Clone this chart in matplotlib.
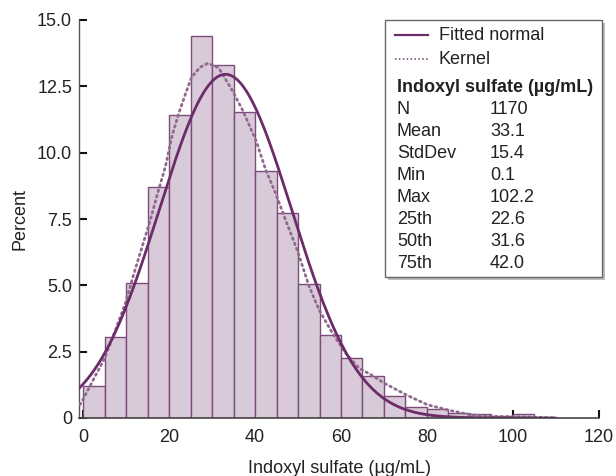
import numpy as np
import matplotlib
matplotlib.use("Agg")
import matplotlib.pyplot as plt
from matplotlib.patches import Rectangle

plt.rcParams['font.family'] = ['Liberation Sans', 'DejaVu Sans']

# ---- data ----
bin_starts = [0, 5, 10, 15, 20, 25, 30, 35, 40, 45, 50, 55, 60, 65, 70, 75, 80, 85, 90, 95, 100]
percent = [1.19, 3.07, 5.07, 8.71, 11.43, 14.41, 13.31, 11.55, 9.30, 7.71, 5.04, 3.13,
           2.26, 1.60, 0.84, 0.42, 0.34, 0.17, 0.15, 0.09, 0.15]
bin_width = 5

n_obs = 1170
mean_val = 33.1
sd_val = 15.4

kernel_x = [-0.8, 0.0, 2.9, 4.8, 7.5, 9.8, 11.8, 13.7, 15.6, 17.5, 19.1, 20.6, 22.2, 23.8,
            25.2, 27.2, 29.0, 31.5, 34.7, 37.1, 40.2, 42.5, 44.8, 47.1, 49.8, 52.6, 54.9,
            58.0, 61.1, 64.2, 67.3, 70.1, 75.1, 80.1, 85.2, 90.2, 95.2, 100.0, 105.0, 110.0]
kernel_y = [0.50, 0.72, 1.62, 2.19, 3.32, 4.32, 5.45, 6.45, 7.46, 8.58, 9.46, 10.59, 11.47,
            12.22, 12.84, 13.22, 13.37, 13.20, 12.34, 11.60, 10.46, 9.34, 8.46, 7.46, 6.33,
            4.95, 4.07, 3.20, 2.44, 1.88, 1.60, 1.31, 0.88, 0.50, 0.29, 0.12, 0.06, 0.05,
            0.03, 0.0]

stat_labels = ["N", "Mean", "StdDev", "Min", "Max", "25th", "50th", "75th"]
stat_values = ["1170", "33.1", "15.4", "0.1", "102.2", "22.6", "31.6", "42.0"]

x_ticks = [0, 20, 40, 60, 80, 100, 120]
y_ticks = [0, 2.5, 5.0, 7.5, 10.0, 12.5, 15.0]
y_ticklabels = ["0", "2.5", "5.0", "7.5", "10.0", "12.5", "15.0"]

# ---- figure ----
W, H = 616, 476
fig = plt.figure(figsize=(W / 100, H / 100), dpi=100)
ax = fig.add_axes([79 / W, 1 - 418 / H, (600 - 79) / W, (418 - 20) / H])

fill_c = "#d8cad8"
edge_c = "#7d4c7b"
line_c = "#6c2c69"
kern_c = "#8f6a8d"
txt_c = "#222222"

ax.bar(bin_starts, percent, width=bin_width, align='edge', color=fill_c,
       edgecolor=edge_c, linewidth=1.0, zorder=2)

xs = np.linspace(-1, 110, 500)
normal_pct = 100 * bin_width * np.exp(-0.5 * ((xs - mean_val) / sd_val) ** 2) / (sd_val * np.sqrt(2 * np.pi))
ax.plot(xs, normal_pct, color=line_c, lw=2.0, zorder=4, solid_capstyle='round')
ax.plot(kernel_x, kernel_y, color=kern_c, lw=2.0, linestyle=(0, (0.6, 1.4)),
        dash_capstyle='round', zorder=3)

ax.set_xlim(-1, 120.3)
ax.set_ylim(0, 15)
ax.set_xticks(x_ticks)
ax.set_xticklabels([str(v) for v in x_ticks])
ax.set_yticks(y_ticks)
ax.set_yticklabels(y_ticklabels)

for s in ['top', 'right']:
    ax.spines[s].set_visible(False)
ax.spines['left'].set_color('#555555')
ax.spines['left'].set_linewidth(1.0)
ax.spines['bottom'].set_color('#444444')
ax.spines['bottom'].set_linewidth(1.2)
ax.spines['bottom'].set_bounds(-1, 120)
ax.spines['bottom'].set_zorder(5)

ax.tick_params(direction='in', length=6, width=1.5, color='#111111', labelsize=13,
               labelcolor=txt_c)
ax.tick_params(axis='y', pad=5)
ax.tick_params(axis='x', pad=8)

ax.set_xlabel("Indoxyl sulfate (µg/mL)", fontsize=13, color=txt_c, labelpad=10)
ax.set_ylabel("Percent", fontsize=13, color=txt_c, labelpad=6)

# ---- legend / stats box ----
def fx(px):
    return px / W

def fy(py):
    return 1 - py / H

bx0, bx1, by0, by1 = 385, 602, 20, 277
shadow = Rectangle((fx(bx0 + 3), fy(by1 + 3)), fx(bx1 - bx0), (by1 - by0) / H,
                   transform=fig.transFigure, facecolor='#bbbbbb', edgecolor='none',
                   zorder=9)
box = Rectangle((fx(bx0), fy(by1)), fx(bx1 - bx0), (by1 - by0) / H,
                transform=fig.transFigure, facecolor='white', edgecolor='#666666',
                linewidth=1.0, zorder=10)
fig.patches.extend([shadow, box])

fig.add_artist(plt.Line2D([fx(395), fx(428)], [fy(35), fy(35)], color=line_c, lw=1.6,
                          transform=fig.transFigure, zorder=11))
fig.add_artist(plt.Line2D([fx(395), fx(428)], [fy(59), fy(59)], color=kern_c, lw=1.4,
                          linestyle=(0, (0.8, 1.2)), transform=fig.transFigure, zorder=11))
fig.text(fx(439), fy(35), "Fitted normal", fontsize=13, color=txt_c, va='center', zorder=12)
fig.text(fx(439), fy(59), "Kernel", fontsize=13, color=txt_c, va='center', zorder=12)
fig.text(fx(397), fy(87), "Indoxyl sulfate (µg/mL)", fontsize=13, fontweight='bold',
         color=txt_c, va='center', zorder=12)
for i, (lab, val) in enumerate(zip(stat_labels, stat_values)):
    yy = 109.5 + i * 22.0
    fig.text(fx(397), fy(yy), lab, fontsize=13, color=txt_c, va='center', zorder=12)
    fig.text(fx(490), fy(yy), val, fontsize=13, color=txt_c, va='center', zorder=12)

fig.savefig("out.png", dpi=100)
